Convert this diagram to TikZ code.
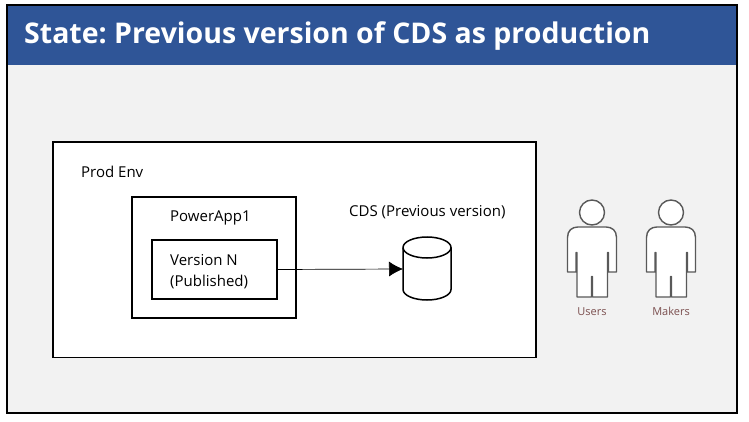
\documentclass[tikz,border=0pt]{standalone}
\usepackage{fontspec}
\setmainfont{Open Sans}
\usetikzlibrary{arrows.meta}
\definecolor{headblue}{HTML}{2F5597}
\definecolor{panelgray}{HTML}{F2F2F2}
\definecolor{labelbrown}{HTML}{7B4F4F}
\tikzset{
	box/.style={draw=black, line width=1.5pt, fill=white, anchor=north west, inner sep=0pt, outer sep=0pt},
	txt/.style={font=\fontsize{15}{21}\selectfont, inner sep=0pt, align=left},
	small/.style={text=labelbrown, inner sep=0pt, anchor=base, font=\fontsize{11}{12}\selectfont},
	person/.pic={
		\draw [draw=black!65, line width=1.4pt, fill=white] (0,0) circle (12.5);
		\draw [draw=black!65, line width=1.4pt, fill=white, line join=round]
			(-24.5,25) .. controls (-24.5,18) and (-20,14.5) .. (-14,14.5) -- (14,14.5)
			.. controls (20,14.5) and (24.5,18) .. (24.5,25) -- (24.5,59.5) -- (16.5,59.5) -- (16.5,40) -- (15.5,40) -- (15.5,84.5)
			-- (0.5,84.5) -- (0.5,64) -- (-0.5,64) -- (-0.5,84.5) -- (-15,84.5) -- (-15,40) -- (-16,40) -- (-16,59.5) -- (-24.5,59.5) -- cycle;
	}
}
\begin{document}
\frenchspacing
\begin{tikzpicture}[x=1pt, y=-1pt]
	\useasboundingbox (0,0) rectangle (749,422);
	\fill [white] (0,0) rectangle (749,422);

	\draw [line width=1.5pt, fill=panelgray] (7,5) rectangle (737,413);
	\fill [headblue] (7.8,5.8) rectangle (736.2,65);
	\node (title) [anchor=west, inner sep=0pt, text=white, font=\fontsize{28.5}{34}\selectfont\bfseries] at (24,36) {State: Previous version of CDS as production};

	\node (prodbox) [box, minimum width=483pt, minimum height=215.5pt] at (53,142) {};
	\node (prodlabel) [txt, anchor=west] at (81,172) {Prod Env};

	\node (appbox) [box, minimum width=164pt, minimum height=121pt] at (132,197) {};
	\node (applabel) [txt, anchor=west] at (170,218) {PowerApp1};

	\node (verbox) [box, minimum width=125pt, minimum height=59pt] at (152,240) {};
	\node (verlabel) [txt, anchor=west] at (170,272) {Version N\\(Published)};

	\node (cdslabel) [txt, anchor=west] at (349,212) {CDS (Previous version)};

	% cylinder
	\node (cds) [inner sep=0pt, outer sep=0pt, minimum width=48pt, minimum height=62pt] at (427,269) {};
	\draw [line width=1.5pt, fill=white] (403,247.5) arc (180:0:24 and -10.5) -- (451,289.5) arc (360:180:24 and -10.5) -- cycle;
	\draw [line width=1.5pt] (403,247.5) arc (180:360:24 and -10.5);

	\draw [-{Latex[length=14pt, width=15pt]}, line width=0.7pt] (verbox.east) -- (cds.west);

	\pic (users) at (592,212.5) {person};
	\pic (makers) at (671,212.5) {person};
	\node (userslabel) [small] at (592,315) {Users};
	\node (makerslabel) [small] at (671,315) {Makers};
\end{tikzpicture}
\end{document}
